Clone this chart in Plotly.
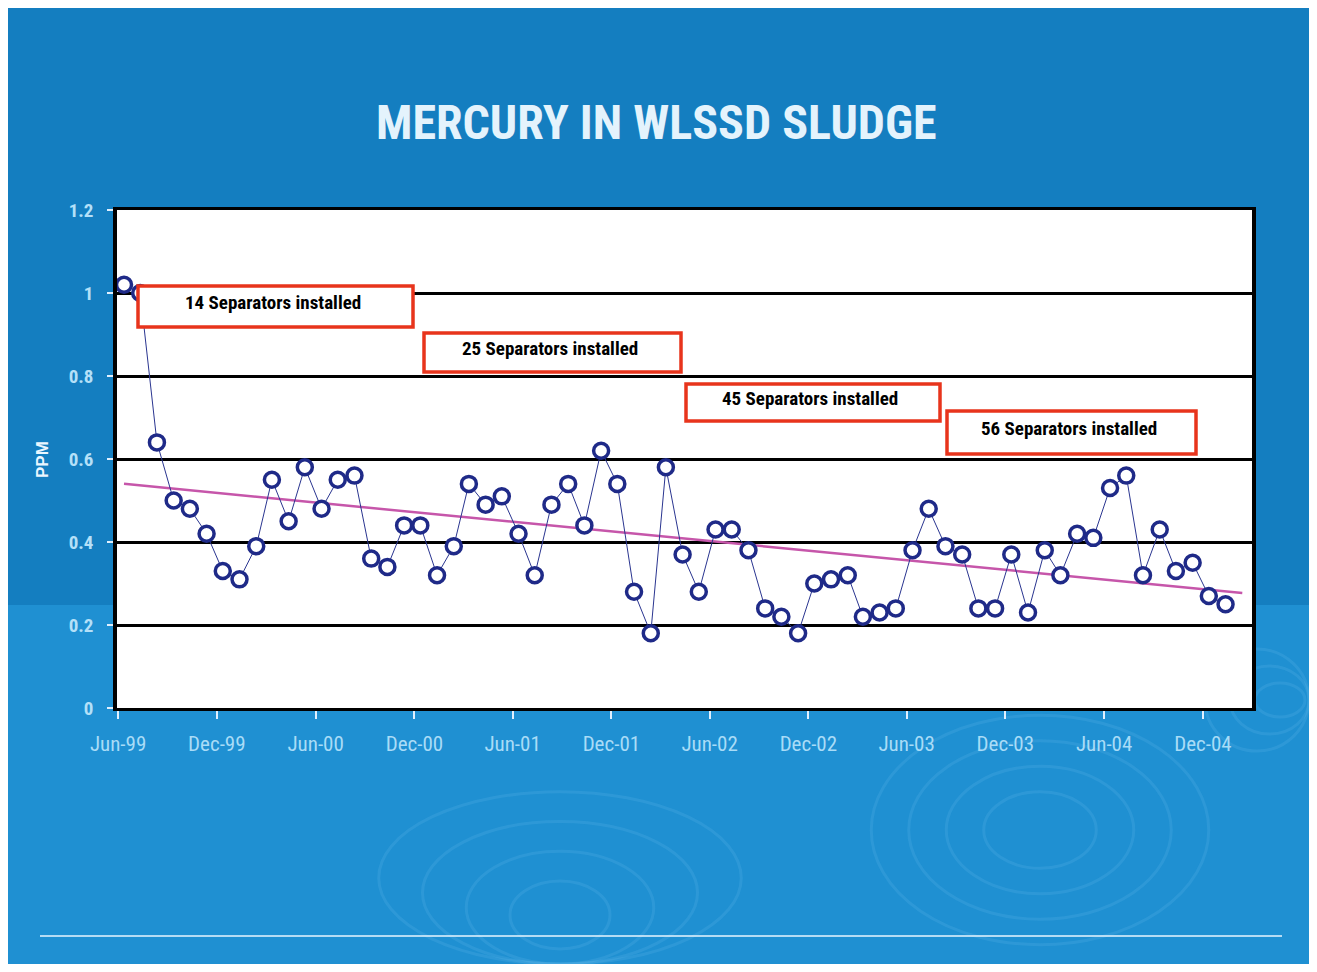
import numpy as np
import pandas as pd
import plotly.graph_objects as go

# ---- data ----
start_month = "1999-06-01"
ppm = [1.02, 1.00, 0.64, 0.50, 0.48, 0.42, 0.33, 0.31, 0.39, 0.55, 0.45, 0.58,
       0.48, 0.55, 0.56, 0.36, 0.34, 0.44, 0.44, 0.32, 0.39, 0.54, 0.49, 0.51,
       0.42, 0.32, 0.49, 0.54, 0.44, 0.62, 0.54, 0.28, 0.18, 0.58, 0.37, 0.28,
       0.43, 0.43, 0.38, 0.24, 0.22, 0.18, 0.30, 0.31, 0.32, 0.22, 0.23, 0.24,
       0.38, 0.48, 0.39, 0.37, 0.24, 0.24, 0.37, 0.23, 0.38, 0.32, 0.42, 0.41,
       0.53, 0.56, 0.32, 0.43, 0.33, 0.35, 0.27, 0.25]
tick_dates = ["1999-06-01", "1999-12-01", "2000-06-01", "2000-12-01", "2001-06-01",
              "2001-12-01", "2002-06-01", "2002-12-01", "2003-06-01", "2003-12-01",
              "2004-06-01", "2004-12-01"]
tick_labels = ["Jun-99", "Dec-99", "Jun-00", "Dec-00", "Jun-01", "Dec-01",
               "Jun-02", "Dec-02", "Jun-03", "Dec-03", "Jun-04", "Dec-04"]
y_ticks = [0, 0.2, 0.4, 0.6, 0.8, 1, 1.2]
y_tick_labels = ["0", "0.2", "0.4", "0.6", "0.8", "1", "1.2"]
notes = ["14 Separators installed", "25 Separators installed",
         "45 Separators installed", "56 Separators installed"]

# page body has an 8px margin; size the figure so the page fits the window exactly
OFF = 8
W, H = 1317 - 2 * OFF, 972 - 2 * OFF
dates = pd.date_range(start_month, periods=len(ppm), freq="MS") + pd.Timedelta(days=11)

# linear trend (as Excel trendline), extended one period forward
idx = np.arange(len(ppm))
slope, intercept = np.polyfit(idx, ppm, 1)
trend_idx = np.arange(len(ppm) + 1)
trend_dates = pd.date_range(start_month, periods=len(ppm) + 1, freq="MS") + pd.Timedelta(days=11)
trend_vals = intercept + slope * trend_idx

FONT = "Liberation Sans Narrow, Arial Narrow, Roboto Condensed, sans-serif"

def px(x):
    return (x - OFF) / W

def py(y):
    return 1 - (y - OFF) / H

fig = go.Figure()
fig.add_trace(go.Scatter(x=trend_dates, y=trend_vals, mode="lines",
                         line=dict(color="#c656aa", width=2.5), hoverinfo="skip"))
fig.add_trace(go.Scatter(x=dates, y=ppm, mode="lines+markers",
                         line=dict(color="#2a3590", width=1),
                         marker=dict(symbol="circle", size=15, color="white",
                                     line=dict(color="#1f2a88", width=3.5))))

shapes = []
# slide background
shapes.append(dict(type="rect", xref="paper", yref="paper", x0=0, x1=1,
                   y0=0, y1=1, fillcolor="#1f90d2", line=dict(width=0), layer="below"))
shapes.append(dict(type="rect", xref="paper", yref="paper", x0=0, x1=1,
                   y0=py(605), y1=1, fillcolor="#147ec0", line=dict(width=0), layer="below"))
# ripple decorations
for cx, cy, rs in [(1040, 830, [45, 75, 105, 135]), (1280, 700, [20, 40, 60]),
                   (560, 915, [40, 75, 110, 145])]:
    for r in rs:
        shapes.append(dict(type="circle", xref="paper", yref="paper",
                           x0=px(cx - r * 1.25), x1=min(px(cx + r * 1.25), 1),
                           y0=max(py(cy + r * 0.85), 0), y1=py(cy - r * 0.85),
                           line=dict(color="rgba(120,200,240,0.16)", width=3),
                           layer="below"))
# white plot area
shapes.append(dict(type="rect", xref="x domain", yref="y domain", x0=0, x1=1, y0=0, y1=1,
                   fillcolor="white", line=dict(width=0), layer="below"))
# bottom white line
shapes.append(dict(type="line", xref="paper", yref="paper", x0=px(40), x1=px(1282),
                   y0=py(936), y1=py(936), line=dict(color="#e8f6ff", width=1.5)))

# annotation boxes
boxes = [(138, 413, 286, 327), (424, 681, 333, 372), (686, 940, 384, 421), (947, 1196, 411, 454)]
annotations = []
for (x0, x1, y0, y1), txt in zip(boxes, notes):
    shapes.append(dict(type="rect", xref="paper", yref="paper", x0=px(x0), x1=px(x1),
                       y0=py(y1), y1=py(y0), fillcolor="white",
                       line=dict(color="#e8341c", width=3.5)))
    annotations.append(dict(xref="paper", yref="paper", x=px((x0 + x1) / 2 - 3),
                            y=py((y0 + y1) / 2 - 4), text=txt, showarrow=False,
                            font=dict(family=FONT, size=19, color="black", weight="bold"),
                            xanchor="center", yanchor="middle"))

annotations.append(dict(xref="paper", yref="paper", x=px(656), y=py(122),
                        text="MERCURY IN WLSSD SLUDGE", showarrow=False,
                        font=dict(family=FONT, size=48, color="#e4f3fc", weight="bold"),
                        xanchor="center", yanchor="middle"))
annotations.append(dict(xref="paper", yref="paper", x=px(42), y=py(460),
                        text="PPM", showarrow=False, textangle=-90,
                        font=dict(family="Liberation Sans, Arial, sans-serif", size=17,
                                  color="#eaf6ff", weight="bold"),
                        xanchor="center", yanchor="middle"))

fig.update_layout(
    width=W, height=H, margin=dict(l=0, r=0, t=0, b=0, pad=0, autoexpand=False),
    paper_bgcolor="white", plot_bgcolor="white", showlegend=False,
    shapes=shapes, annotations=annotations,
    xaxis=dict(domain=[px(117), px(1252)], type="date", automargin=False,
               range=["1999-05-30", "2005-03-02"],
               tickvals=tick_dates, ticktext=tick_labels,
               ticks="outside", ticklen=8, tickwidth=2, tickcolor="#e0f0ff",
               tickfont=dict(family=FONT, size=21, color="#a9dcf7"),
               showgrid=False, zeroline=False,
               showline=True, linecolor="black", linewidth=3, mirror=True,
               ticklabelstandoff=7),
    yaxis=dict(domain=[py(708), py(210)], range=[0, 1.2], automargin=False,
               tickvals=y_ticks, ticktext=y_tick_labels,
               ticks="outside", ticklen=6, tickwidth=2, tickcolor="#e0f0ff",
               tickfont=dict(family=FONT, size=19, color="#b4e0f8", weight="bold"),
               showgrid=True, gridcolor="black", gridwidth=2.5, zeroline=False,
               showline=True, linecolor="black", linewidth=3.5, mirror=True,
               ticklabelstandoff=10),
)

fig.write_html("out.html")
